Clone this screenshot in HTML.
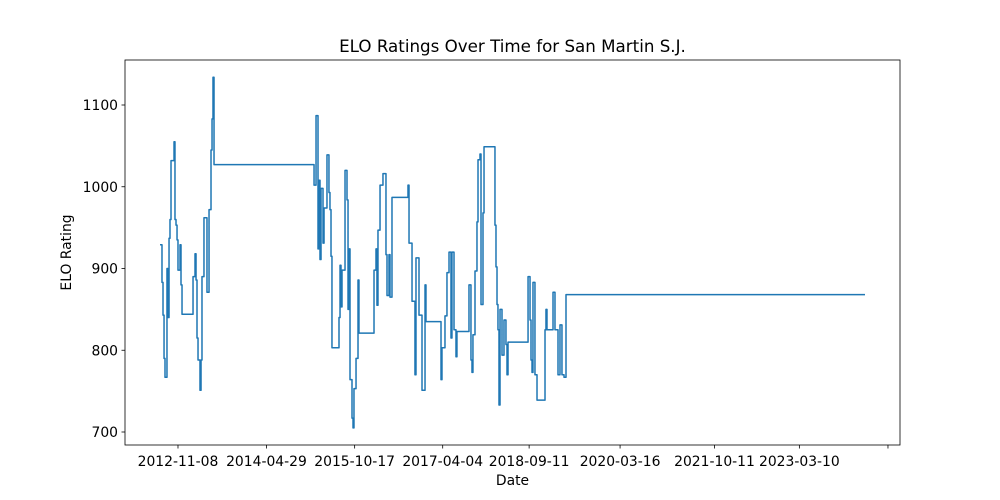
<!DOCTYPE html>
<html><head><meta charset="utf-8"><style>
body{margin:0;background:#fff;}
svg{display:block;font-family:"DejaVu Sans","Liberation Sans",sans-serif;}
</style></head><body>
<svg id="chart" width="1000" height="500"></svg>
<script>
const years=[2012.556,2012.589,2012.606,2012.623,2012.639,2012.672,2012.689,2012.706,2012.722,2012.739,2012.789,2012.805,2012.822,2012.839,2012.855,2012.889,2012.905,2012.922,2013.105,2013.138,2013.155,2013.171,2013.188,2013.221,2013.238,2013.254,2013.287,2013.337,2013.371,2013.404,2013.421,2013.437,2013.454,
2015.117,2015.150,2015.183,2015.199,2015.216,2015.233,2015.266,2015.283,2015.332,2015.365,2015.382,2015.399,2015.415,2015.532,2015.549,2015.565,2015.582,2015.632,2015.665,2015.682,2015.698,2015.715,2015.748,2015.765,2015.781,2015.815,2015.848,2015.864,
2016.114,2016.147,2016.163,2016.180,2016.214,2016.263,2016.313,2016.330,2016.363,2016.380,2016.413,2016.679,2016.696,2016.746,2016.795,2016.812,2016.862,2016.912,2016.962,2016.978,
2017.228,2017.244,2017.294,2017.327,2017.361,2017.394,2017.410,2017.444,2017.477,2017.493,2017.693,2017.726,2017.743,2017.759,2017.793,2017.826,2017.843,2017.876,2017.893,2017.926,2017.943,
2018.125,2018.142,2018.159,2018.175,2018.192,2018.209,2018.242,2018.275,2018.308,2018.325,2018.342,2018.675,2018.708,2018.724,2018.741,2018.757,2018.790,2018.824,2018.957,2018.973,2018.990,2019.090,2019.123,2019.173,2019.206,2019.239,2019.273,2019.306,2024.277];
const elo=[929,883,843,790,767,900,840,937,960,1032,1055,960,953,935,898,929,880,844,890,918,886,815,788,751,788,890,962,871,972,1045,1083,1134,1027,
1002,1087,924,1008,911,998,931,974,1039,993,972,915,803,840,904,853,898,1020,984,850,924,764,717,705,753,790,886,821,
898,924,855,947,1002,1016,917,867,917,865,987,1002,931,860,770,913,843,751,880,835,
764,803,842,895,920,815,920,825,792,823,880,788,773,819,897,957,1033,1040,856,968,1049,
953,902,856,825,733,850,794,837,807,770,810,890,837,788,773,883,770,739,825,850,825,871,825,770,831,770,767,868,868];
const tickLabels=["2012-11-08","2014-04-29","2015-10-17","2017-04-04","2018-09-11","2020-03-16","2021-10-11","2023-03-10",""];
const tickYears=[2012.855,2014.326,2015.792,2017.256,2018.693,2020.205,2021.775,2023.186,2024.659];
const yTicks=[700,800,900,1000,1100];
const L=125,R=900,T=60,B=445;
const x0=2011.974,x1=2024.859,yv0=1100,yp0=105,ppu=0.8175;
const xs=v=>L+(v-x0)/(x1-x0)*(R-L);
const ys=v=>yp0+(yv0-v)*ppu;
const svg=document.getElementById('chart');
const NS="http://www.w3.org/2000/svg";
function mk(t,a,txt){const e=document.createElementNS(NS,t);for(const k in a)e.setAttribute(k,a[k]);if(txt!==undefined)e.textContent=txt;svg.appendChild(e);return e;}
let d="";
for(let i=0;i<years.length;i++){const X=xs(years[i]).toFixed(2),Y=ys(elo[i]).toFixed(2);
 if(i===0)d+="M"+X+","+Y;else d+="H"+X+"V"+Y;}
const line=mk('path',{d:d,fill:'none',stroke:'#1f77b4','stroke-width':1.5,'stroke-linejoin':'round'});


const frame=mk('rect',{x:L,y:T,width:R-L,height:B-T,fill:'none',stroke:'#000','stroke-width':0.8});


tickYears.forEach((v,i)=>{const X=xs(v);
 const tk=mk('line',{x1:X,x2:X,y1:B,y2:B+3.5,stroke:'#000','stroke-width':0.8});
 
 
 if(tickLabels[i]){const t=mk('text',{x:X,y:B+21,'text-anchor':'middle','font-size':13.9},tickLabels[i]);
 
 }
});
yTicks.forEach(v=>{const Y=ys(v);
 const tk=mk('line',{x1:L-3.5,x2:L,y1:Y,y2:Y,stroke:'#000','stroke-width':0.8});
 
 
 const t=mk('text',{x:L-7,y:Y+5,'text-anchor':'end','font-size':13.9},String(v));
 
 
});
const title=mk('text',{x:(L+R)/2,y:52,'text-anchor':'middle','font-size':16.7},'ELO Ratings Over Time for San Martin S.J.');


const xt=mk('text',{x:(L+R)/2,y:485,'text-anchor':'middle','font-size':13.9},'Date');


const yt=mk('text',{x:71,y:(T+B)/2,'text-anchor':'middle','font-size':13.9,transform:'rotate(-90 71 '+(T+B)/2+')'},'ELO Rating');


</script>
</body></html>
